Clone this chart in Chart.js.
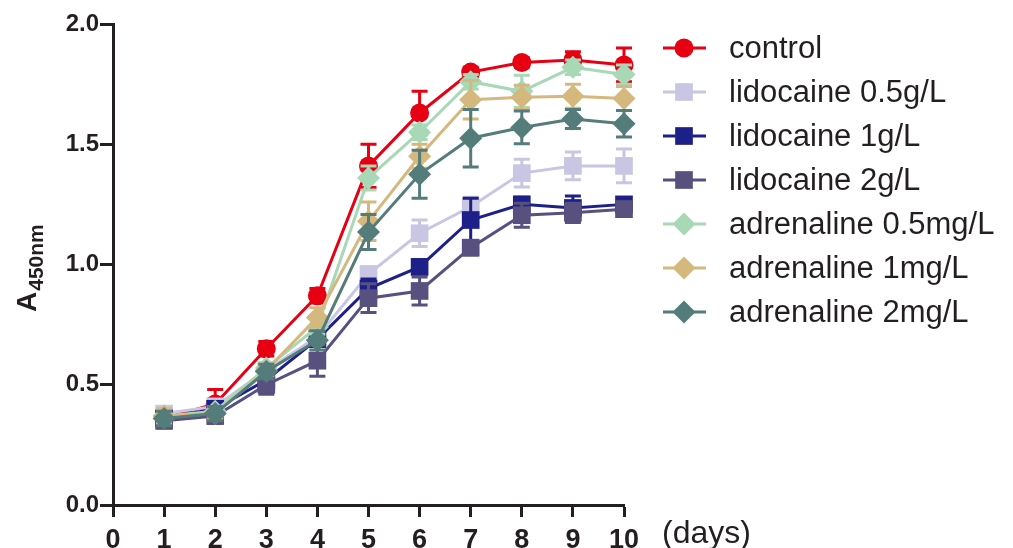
<!DOCTYPE html>
<html>
<head>
<meta charset="utf-8">
<script src="https://cdn.jsdelivr.net/npm/chart.js@4.4.1/dist/chart.umd.min.js"></script>
<style>
  html, body { margin: 0; padding: 0; background: #fff; }
  #wrap { width: 1013px; height: 548px; }
</style>
</head>
<body>
<div id="wrap"><canvas id="chart" width="1013" height="548"></canvas></div>
<script>
const days = [1, 2, 3, 4, 5, 6, 7, 8, 9, 10];
const xTicks = [0, 1, 2, 3, 4, 5, 6, 7, 8, 9, 10];
const yTicks = [0.0, 0.5, 1.0, 1.5, 2.0];

const seriesNames = ["control", "lidocaine 0.5g/L", "lidocaine 1g/L", "lidocaine 2g/L",
  "adrenaline 0.5mg/L", "adrenaline 1mg/L", "adrenaline 2mg/L"];

const control     = [0.36, 0.42, 0.65, 0.87, 1.41, 1.63, 1.80, 1.84, 1.85, 1.83];
const controlErr  = [0.02, 0.06, 0.03, 0.03, 0.09, 0.09, 0.02, 0.02, 0.035, 0.07];
const lido05      = [0.38, 0.41, 0.56, 0.70, 0.96, 1.13, 1.24, 1.38, 1.41, 1.41];
const lido05Err   = [0.03, 0.02, 0.03, 0.03, 0.03, 0.055, 0.04, 0.058, 0.058, 0.07];
const lido1       = [0.36, 0.40, 0.52, 0.69, 0.90, 0.99, 1.185, 1.25, 1.235, 1.25];
const lido1Err    = [0.03, 0.03, 0.02, 0.03, 0.04, 0.03, 0.09, 0.03, 0.05, 0.02];
const lido2       = [0.35, 0.37, 0.50, 0.60, 0.86, 0.89, 1.07, 1.205, 1.215, 1.23];
const lido2Err    = [0.03, 0.03, 0.04, 0.065, 0.06, 0.058, 0.03, 0.05, 0.04, 0.03];
const adr05       = [0.37, 0.39, 0.57, 0.74, 1.36, 1.55, 1.76, 1.72, 1.82, 1.79];
const adr05Err    = [0.02, 0.02, 0.02, 0.03, 0.05, 0.03, 0.03, 0.067, 0.03, 0.04];
const adr1        = [0.37, 0.38, 0.56, 0.78, 1.18, 1.45, 1.685, 1.695, 1.70, 1.69];
const adr1Err     = [0.03, 0.02, 0.02, 0.04, 0.08, 0.05, 0.08, 0.05, 0.05, 0.05];
const adr2        = [0.36, 0.38, 0.555, 0.685, 1.135, 1.375, 1.525, 1.57, 1.605, 1.585];
const adr2Err     = [0.03, 0.03, 0.03, 0.04, 0.073, 0.10, 0.12, 0.068, 0.04, 0.055];

const seriesValues = [control, lido05, lido1, lido2, adr05, adr1, adr2];
const seriesErrors = [controlErr, lido05Err, lido1Err, lido2Err, adr05Err, adr1Err, adr2Err];
const seriesColors = ["#e60012", "#c8c6e2", "#1d2088", "#58507f", "#a8d8b6", "#d5b87d", "#537c7b"];
const seriesShapes = ["circle", "rect", "rect", "rect", "rectRot", "rectRot", "rectRot"];
const shapeRadius = { circle: 9.5, rect: 12.5, rectRot: 11.5 };

const FONT = "Arial, 'Liberation Sans', Helvetica, sans-serif";
const INK = "#231f20";

const datasets = seriesNames.map((name, i) => ({
  label: name,
  data: days.map((d, j) => ({ x: d, y: seriesValues[i][j] })),
  errors: seriesErrors[i],
  borderColor: seriesColors[i],
  backgroundColor: seriesColors[i],
  borderWidth: 3,
  pointStyle: seriesShapes[i],
  pointRadius: shapeRadius[seriesShapes[i]],
  pointHoverRadius: shapeRadius[seriesShapes[i]],
  pointBorderWidth: 0,
  tension: 0,
  clip: false,
  order: seriesNames.length - i   // later series drawn on top
}));

// vertical error bars with caps, drawn under each series' line and markers
const errorBars = {
  id: "errorBars",
  beforeDatasetDraw(chart, args) {
    const ds = chart.data.datasets[args.index];
    const yScale = chart.scales.y;
    const ctx = chart.ctx;
    ctx.save();
    ctx.strokeStyle = ds.borderColor;
    ctx.lineWidth = 3;
    args.meta.data.forEach((pt, j) => {
      const v = ds.data[j].y, e = ds.errors[j];
      const top = yScale.getPixelForValue(v + e);
      const bot = yScale.getPixelForValue(v - e);
      ctx.beginPath();
      ctx.moveTo(pt.x, top); ctx.lineTo(pt.x, bot);
      ctx.moveTo(pt.x - 8, top); ctx.lineTo(pt.x + 8, top);
      ctx.moveTo(pt.x - 8, bot); ctx.lineTo(pt.x + 8, bot);
      ctx.stroke();
    });
    ctx.restore();
  }
};

// legend with line + marker, y title with subscript, and "(days)" label
const decorations = {
  id: "decorations",
  afterDraw(chart) {
    const ctx = chart.ctx;
    ctx.save();
    chart.data.datasets.forEach((ds, i) => {
      const y = 48 + i * 44;
      ctx.strokeStyle = ds.borderColor;
      ctx.fillStyle = ds.backgroundColor;
      ctx.lineWidth = 3;
      ctx.beginPath();
      ctx.moveTo(663, y); ctx.lineTo(706, y);
      ctx.stroke();
      Chart.helpers.drawPoint(ctx, {
        pointStyle: ds.pointStyle, radius: ds.pointRadius, rotation: 0, borderWidth: 0
      }, 684, y);
      ctx.fillStyle = INK;
      ctx.font = "31px " + FONT;
      ctx.textBaseline = "middle";
      ctx.textAlign = "left";
      ctx.fillText(ds.label, 729, y + 1);
    });

    ctx.fillStyle = INK;
    ctx.font = "32px " + FONT;
    ctx.textBaseline = "alphabetic";
    ctx.fillText("(days)", 662, 543);

    ctx.translate(36, 312);
    ctx.rotate(-Math.PI / 2);
    ctx.font = "bold 28px " + FONT;
    ctx.fillText("A", 0, 0);
    const w = ctx.measureText("A").width;
    ctx.font = "bold 21px " + FONT;
    ctx.fillText("450nm", w + 1, 7);
    ctx.restore();
  }
};

new Chart(document.getElementById("chart"), {
  type: "line",
  data: { datasets },
  options: {
    responsive: false,
    animation: false,
    events: [],
    layout: { padding: { top: 24, right: 389, left: 0, bottom: 0 } },
    plugins: { legend: { display: false }, tooltip: { enabled: false } },
    scales: {
      x: {
        type: "linear",
        min: 0, max: 10,
        afterBuildTicks(scale) { scale.ticks = xTicks.map(v => ({ value: v })); },
        afterFit(scale) { scale.height = 43; },
        ticks: { color: INK, padding: 7, font: { family: FONT, size: 27, weight: "bold" } },
        grid: { drawOnChartArea: false, tickLength: 12, tickWidth: 3, tickColor: INK },
        border: { color: INK, width: 3 }
      },
      y: {
        min: 0, max: 2,
        afterBuildTicks(scale) { scale.ticks = yTicks.map(v => ({ value: v })); },
        afterFit(scale) { scale.width = 113; },
        ticks: {
          color: INK, padding: 1,
          font: { family: FONT, size: 24, weight: "bold" },
          callback: v => v.toFixed(1)
        },
        grid: { drawOnChartArea: false, tickLength: 13, tickWidth: 3, tickColor: INK },
        border: { color: INK, width: 3 }
      }
    }
  },
  plugins: [errorBars, decorations]
});
</script>
</body>
</html>
